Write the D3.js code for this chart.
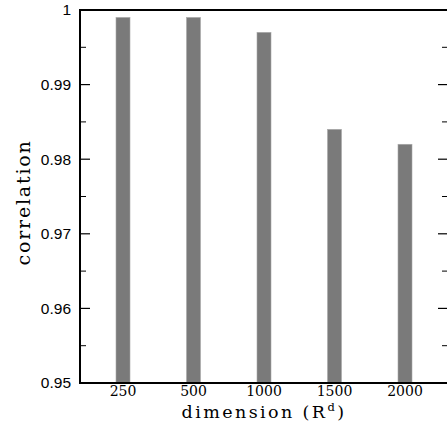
<!DOCTYPE html>
<html>
<head>
<meta charset="utf-8">
<script src="https://cdn.jsdelivr.net/npm/d3@7"></script>
<style>
  body { margin: 0; background: #fff; }
  svg { display: block; }
</style>
</head>
<body>
<div id="chart"></div>
<script>
const dimensions = ["250", "500", "1000", "1500", "2000"];
const correlations = [0.999, 0.999, 0.997, 0.984, 0.982];
const yTicks = [0.95, 0.96, 0.97, 0.98, 0.99, 1];
const yMinorTicks = [0.955, 0.965, 0.975, 0.985, 0.995];

const W = 447, H = 423;
const plot = {left: 80, right: 448, top: 10, bottom: 383};

const svg = d3.select("#chart").append("svg")
    .attr("width", W)
    .attr("height", H);

const x = d3.scalePoint().domain(dimensions).range([123, 405]);
const y = d3.scaleLinear().domain([0.95, 1]).range([plot.bottom, plot.top]);

// bars
svg.append("g").selectAll("rect")
    .data(dimensions)
    .enter()
    .append("rect")
    .attr("x", d => x(d) - 7)
    .attr("width", 14)
    .attr("y", (d, i) => y(correlations[i]))
    .attr("height", (d, i) => plot.bottom - y(correlations[i]))
    .attr("fill", "#7a7a7a")
    .attr("stroke", "#a8a8a8")
    .attr("stroke-width", 0.6);

// ticks on both sides
const ticks = svg.append("g");
yTicks.forEach(t => {
    ticks.append("line").attr("x1", plot.left).attr("x2", plot.left + 10)
        .attr("y1", y(t)).attr("y2", y(t)).attr("stroke", "#000").attr("stroke-width", 1.2);
    ticks.append("line").attr("x1", plot.right - 10).attr("x2", plot.right)
        .attr("y1", y(t)).attr("y2", y(t)).attr("stroke", "#000").attr("stroke-width", 1.2);
    ticks.append("text")
        .attr("x", 71).attr("y", y(t))
        .attr("dy", "0.35em")
        .attr("text-anchor", "end")
        .attr("font-family", "Liberation Sans, Arial, sans-serif")
        .attr("font-size", 15.5)
        .text(d3.format("")(t));
});
yMinorTicks.forEach(t => {
    ticks.append("line").attr("x1", plot.left).attr("x2", plot.left + 6)
        .attr("y1", y(t)).attr("y2", y(t)).attr("stroke", "#000").attr("stroke-width", 1);
    ticks.append("line").attr("x1", plot.right - 6).attr("x2", plot.right)
        .attr("y1", y(t)).attr("y2", y(t)).attr("stroke", "#000").attr("stroke-width", 1);
});

// frame
svg.append("line").attr("x1", plot.left).attr("x2", W).attr("y1", plot.top).attr("y2", plot.top)
    .attr("stroke", "#000").attr("stroke-width", 2);
svg.append("line").attr("x1", plot.left).attr("x2", W).attr("y1", plot.bottom).attr("y2", plot.bottom)
    .attr("stroke", "#000").attr("stroke-width", 2);
svg.append("line").attr("x1", plot.left).attr("x2", plot.left).attr("y1", plot.top - 1).attr("y2", plot.bottom + 1)
    .attr("stroke", "#000").attr("stroke-width", 2);

// x tick labels
svg.append("g").selectAll("text")
    .data(dimensions)
    .enter()
    .append("text")
    .attr("x", d => x(d))
    .attr("y", 396)
    .attr("text-anchor", "middle")
    .attr("font-family", "DejaVu Serif, serif")
    .attr("font-size", 14)
    .text(d => d);

// axis titles
const xTitle = svg.append("text")
    .attr("x", 264)
    .attr("y", 418)
    .attr("text-anchor", "middle")
    .attr("font-family", "DejaVu Serif, serif")
    .attr("font-size", 17.5)
    .attr("letter-spacing", 2.4);
xTitle.append("tspan").text("dimension (R");
xTitle.append("tspan").attr("dy", -7).attr("font-size", 11.5).text("d");
xTitle.append("tspan").attr("dy", 7).text(")");

svg.append("text")
    .attr("transform", `translate(30, ${(plot.top + plot.bottom) / 2 + 6}) rotate(-90)`)
    .attr("text-anchor", "middle")
    .attr("font-family", "DejaVu Serif, serif")
    .attr("font-size", 19)
    .attr("letter-spacing", 1.8)
    .text("correlation");
</script>
</body>
</html>
